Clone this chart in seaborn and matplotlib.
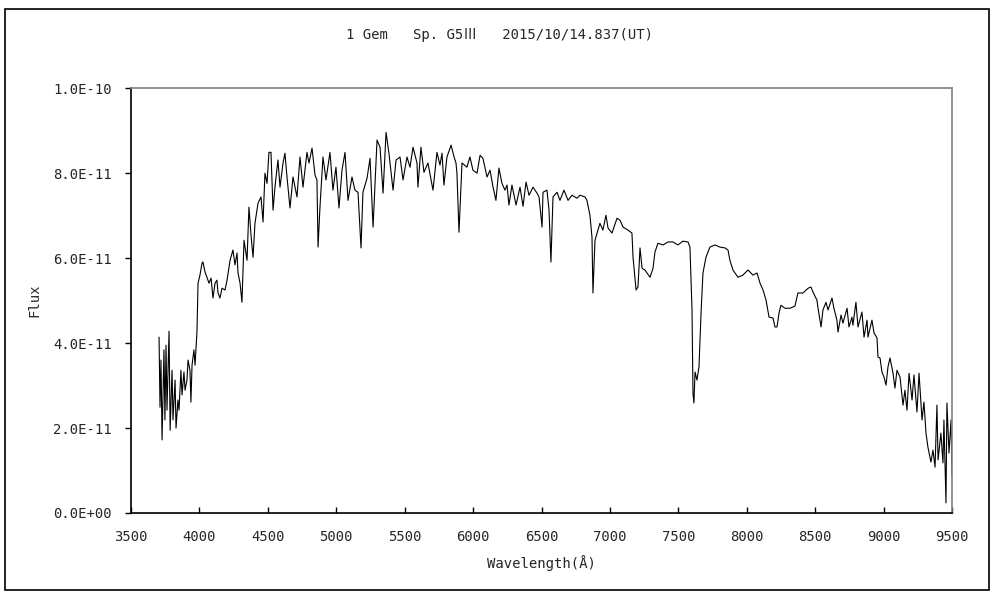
import pandas as pd
import seaborn as sns
import matplotlib.pyplot as plt
from matplotlib.ticker import FuncFormatter, MultipleLocator
from matplotlib.patches import Rectangle

# Spectrum (wavelength in Angstrom, flux in 1e-11 units)
wavelength = [
    3705, 3712, 3719, 3727, 3741, 3748, 3756, 3763, 3778, 3786, 3800, 3807,
    3822, 3829, 3843, 3851, 3865, 3873, 3887, 3895, 3909, 3917, 3931, 3938,
    3946, 3960, 3968, 3982, 3990, 4004, 4019, 4026, 4041, 4055, 4070, 4085,
    4099, 4114, 4128, 4136, 4150, 4165, 4187, 4202, 4224, 4245, 4260, 4275,
    4282, 4297, 4311, 4326, 4348, 4362, 4377, 4392, 4406, 4428, 4450, 4465,
    4479, 4494, 4508, 4523, 4538, 4552, 4574, 4589, 4611, 4625, 4640, 4662,
    4684, 4713, 4735, 4757, 4786, 4801, 4823, 4845, 4859, 4867, 4881, 4903,
    4925, 4954, 4976, 4998, 5020, 5042, 5064, 5086, 5115, 5137, 5159, 5181,
    5195, 5225, 5247, 5269, 5298, 5320, 5342, 5364, 5385, 5415, 5437, 5466,
    5488, 5517, 5539, 5561, 5590, 5597, 5619, 5641, 5670, 5707, 5736, 5758,
    5773, 5787, 5809, 5839, 5861, 5875, 5882, 5897, 5919, 5955, 5977, 5999,
    6029, 6051, 6072, 6102, 6124, 6146, 6167, 6189, 6211, 6233, 6248, 6262,
    6284, 6314, 6343, 6365, 6387, 6409, 6438, 6467, 6482, 6504, 6511, 6540,
    6555, 6569, 6584, 6613, 6635, 6664, 6694, 6723, 6759, 6781, 6818, 6832,
    6847, 6854, 6869, 6876, 6891, 6913, 6927, 6949, 6971, 6986, 7015, 7052,
    7074, 7096, 7132, 7161, 7169, 7191, 7205, 7220, 7235, 7256, 7271, 7293,
    7315, 7329, 7351, 7388, 7424, 7461, 7497, 7534, 7571, 7585, 7600, 7607,
    7614, 7622, 7636, 7651, 7666, 7680, 7702, 7731, 7768, 7804, 7841, 7863,
    7877, 7899, 7936, 7972, 8009, 8045, 8075, 8097, 8119, 8141, 8163, 8192,
    8206, 8221, 8236, 8250, 8279, 8316, 8352, 8374, 8411, 8448, 8469, 8484,
    8513, 8521, 8543, 8557, 8579, 8594, 8623, 8637, 8659, 8667, 8689, 8703,
    8733, 8747, 8769, 8776, 8798, 8813, 8842, 8857, 8879, 8886, 8915, 8930,
    8952, 8959, 8974, 8988, 9003, 9018, 9032, 9047, 9069, 9083, 9098, 9120,
    9142, 9156, 9171, 9186, 9208, 9222, 9244, 9259, 9281, 9295, 9310, 9324,
    9346, 9361, 9376, 9390, 9398, 9419, 9434, 9441, 9456, 9463, 9478, 9493,
    9500,
]
flux = [
    4.14, 2.49, 3.60, 1.72, 3.84, 2.19, 3.95, 2.42, 4.28, 1.95, 3.36, 2.19,
    3.13, 2.00, 2.66, 2.42, 3.36, 2.78, 3.32, 2.89, 3.13, 3.60, 3.36, 2.61,
    3.48, 3.84, 3.48, 4.26, 5.41, 5.60, 5.88, 5.91, 5.67, 5.55, 5.41, 5.53,
    5.06, 5.41, 5.48, 5.18, 5.06, 5.29, 5.25, 5.48, 5.95, 6.19, 5.84, 6.12,
    5.65, 5.41, 4.96, 6.42, 5.95, 7.20, 6.54, 6.02, 6.82, 7.29, 7.44, 6.85,
    8.00, 7.76, 8.49, 8.49, 7.13, 7.67, 8.31, 7.67, 8.24, 8.47, 7.91, 7.18,
    7.91, 7.44, 8.38, 7.67, 8.49, 8.24, 8.59, 7.95, 7.84, 6.26, 7.20, 8.38,
    7.84, 8.49, 7.60, 8.14, 7.18, 8.07, 8.49, 7.36, 7.91, 7.60, 7.55, 6.24,
    7.55, 7.88, 8.35, 6.73, 8.78, 8.61, 7.53, 8.96, 8.47, 7.60, 8.31, 8.38,
    7.84, 8.38, 8.14, 8.61, 8.24, 7.67, 8.61, 8.02, 8.24, 7.60, 8.49, 8.19,
    8.47, 7.72, 8.38, 8.66, 8.38, 8.24, 8.00, 6.61, 8.24, 8.14, 8.38, 8.07,
    8.00, 8.42, 8.35, 7.91, 8.07, 7.67, 7.36, 8.12, 7.76, 7.60, 7.72, 7.25,
    7.72, 7.25, 7.67, 7.22, 7.79, 7.48, 7.67, 7.53, 7.44, 6.73, 7.55, 7.60,
    7.13, 5.91, 7.44, 7.55, 7.36, 7.60, 7.36, 7.48, 7.41, 7.48, 7.44, 7.36,
    7.13, 7.01, 6.49, 5.18, 6.42, 6.66, 6.82, 6.66, 7.01, 6.71, 6.59, 6.94,
    6.89, 6.73, 6.66, 6.59, 6.02, 5.25, 5.32, 6.24, 5.76, 5.72, 5.65, 5.55,
    5.76, 6.14, 6.35, 6.31, 6.38, 6.38, 6.31, 6.40, 6.38, 6.26, 4.78, 2.82,
    2.59, 3.32, 3.13, 3.44, 4.71, 5.65, 6.02, 6.26, 6.31, 6.26, 6.24, 6.19,
    5.95, 5.72, 5.55, 5.60, 5.72, 5.60, 5.65, 5.41, 5.25, 5.01, 4.61, 4.59,
    4.38, 4.38, 4.71, 4.89, 4.82, 4.82, 4.87, 5.18, 5.18, 5.29, 5.32, 5.20,
    5.01, 4.82, 4.38, 4.78, 4.96, 4.78, 5.06, 4.82, 4.54, 4.26, 4.66, 4.47,
    4.82, 4.38, 4.61, 4.42, 4.96, 4.38, 4.73, 4.14, 4.54, 4.14, 4.54, 4.24,
    4.12, 3.67, 3.65, 3.32, 3.20, 3.01, 3.44, 3.65, 3.29, 2.94, 3.36, 3.20,
    2.54, 2.89, 2.42, 3.29, 2.66, 3.25, 2.38, 3.29, 2.19, 2.61, 1.88, 1.55,
    1.20, 1.48, 1.08, 2.54, 1.25, 1.88, 1.18, 2.19, 0.24, 2.59, 1.41, 2.19,
    0.89,
]

spec = pd.DataFrame({'Wavelength': wavelength, 'Flux': [f * 1e-11 for f in flux]})

sns.set_style('white')
plt.rcParams['font.family'] = ['DejaVu Sans Mono', 'Noto Sans CJK JP']

fig = plt.figure(figsize=(10, 6), dpi=100)
ax = fig.add_axes([0.131, 0.145, 0.821, 0.708])

sns.lineplot(data=spec, x='Wavelength', y='Flux', estimator=None, sort=False,
             color='black', lw=0.8, ax=ax)

ax.set_xlim(3500, 9500)
ax.set_ylim(0, 1e-10)
ax.xaxis.set_major_locator(MultipleLocator(500))
ax.yaxis.set_major_locator(MultipleLocator(2e-11))
ax.yaxis.set_major_formatter(FuncFormatter(lambda v, p: '%.1E' % v))
ax.yaxis.offsetText.set_visible(False)

ax.tick_params(axis='x', direction='in', length=4, width=1, color='black',
               pad=12, labelsize=10)
ax.tick_params(axis='y', direction='out', length=4, width=1, color='black',
               pad=10, labelsize=10)
ax.tick_params(bottom=True, left=True)

for side in ['left', 'bottom']:
    ax.spines[side].set_color('black')
    ax.spines[side].set_linewidth(1.2)
for side in ['top', 'right']:
    ax.spines[side].set_color('#808080')
    ax.spines[side].set_linewidth(1.2)

ax.set_xlabel('Wavelength(Å)', fontsize=10, labelpad=8)
ax.set_ylabel('Flux', fontsize=10, labelpad=8)

fig.text(0.5, 0.942, '1 Gem   Sp. G5Ⅲ   2015/10/14.837(UT)',
         ha='center', va='center', fontsize=10)

# outer frame around the whole chart
fig.patches.append(Rectangle((0.005, 0.017), 0.984, 0.968, transform=fig.transFigure,
                             fill=False, edgecolor='black', lw=1.2))

fig.savefig('out.png', dpi=100)
